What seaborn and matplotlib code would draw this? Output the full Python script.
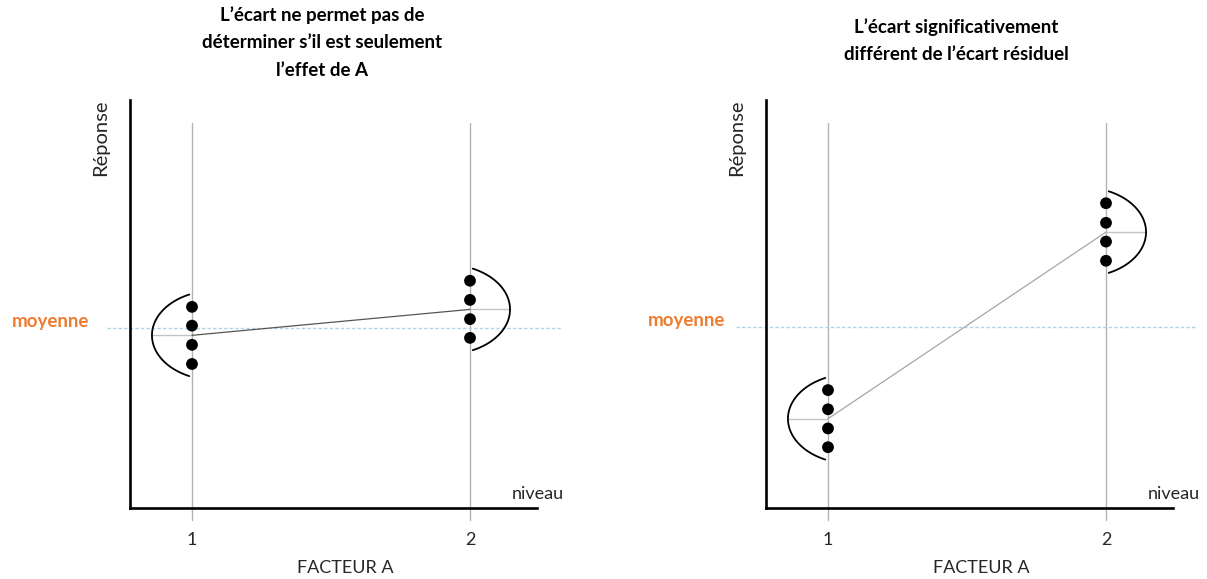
import numpy as np
import pandas as pd
import matplotlib
matplotlib.use("Agg")
import matplotlib.pyplot as plt
import seaborn as sns

# ---------------- data ----------------
levels = [1, 2]
tick_labels = ["1", "2"]
left_g1 = [49.3, 44.7, 40.0, 35.3]
left_g2 = [55.7, 51.0, 46.3, 41.7]
right_g1 = [28.9, 24.2, 19.5, 14.9]
right_g2 = [74.7, 69.9, 65.3, 60.6]
grand_mean_left = 44.0
grand_mean_right = 44.4
titles = ["L\u2019écart ne permet pas de\ndéterminer s\u2019il est seulement\nl\u2019effet de A",
          "L\u2019écart significativement\ndifférent de l\u2019écart résiduel"]

sns.set_theme(style="white")
plt.rcParams['font.family'] = ['Lato', 'DejaVu Sans']

W, H = 1207, 579
fig = plt.figure(figsize=(W / 100, H / 100), dpi=100)

TXT = '#262626'
ORANGE = '#ED7D31'
BLUE = '#a9d6e5'


def arc(ax, xc, yc, side, color='black'):
    # distribution-shaped arc next to a group (half ellipse)
    a, b, half = 0.23, 11.0, 10.0
    vtx = 0.144
    t = np.linspace(-half, half, 100)
    d = a * (1 - np.sqrt(1 - (t / b) ** 2))
    xs = xc + side * (vtx - d)
    ax.plot(xs, yc + t, color=color, lw=1.3, solid_capstyle='round', zorder=4)
    ax.plot([xc, xc + side * vtx], [yc, yc], color='#c4c4c4', lw=1.0, zorder=2)


def panel(ax, g1, g2, gmean, conn_color, title, tx, ty, xlab_off):
    ax.set_xlim(0.777, 2.241)
    ax.set_ylim(0, 100)
    df = pd.DataFrame({'niveau': [1] * len(g1) + [2] * len(g2), 'reponse': g1 + g2})
    means = df.groupby('niveau')['reponse'].mean().reset_index()
    for lv in levels:
        ax.axvline(lv, ymin=-0.029, ymax=0.944, color='#b3b3b3', lw=1.0, clip_on=False, zorder=1)
    ax.axhline(gmean, xmin=xlab_off[0], xmax=xlab_off[1], color=BLUE, lw=1.0,
               dashes=(2.4, 1.6), clip_on=False, zorder=1)
    sns.lineplot(data=means, x='niveau', y='reponse', ax=ax, color=conn_color, lw=0.9, zorder=3)
    sns.scatterplot(data=df, x='niveau', y='reponse', ax=ax, color='black', s=72,
                    edgecolor='none', zorder=5)
    m1, m2 = means['reponse'].tolist()
    arc(ax, 1, m1, -1)
    arc(ax, 2, m2, +1)

    for s in ['top', 'right']:
        ax.spines[s].set_visible(False)
    for s in ['left', 'bottom']:
        ax.spines[s].set_color('black')
        ax.spines[s].set_linewidth(1.9)
    ax.set_xticks(levels)
    ax.set_xticklabels(tick_labels, fontsize=13, color=TXT)
    ax.tick_params(axis='x', length=0, pad=17)
    ax.set_yticks([])
    ax.set_xlabel('FACTEUR A', fontsize=13, color=TXT)
    ax.xaxis.set_label_coords(0.53, -0.127)
    ax.set_ylabel('Réponse', fontsize=14.5, color=TXT, loc='top', labelpad=15)
    ax.text(1.066, 0.035, 'niveau', transform=ax.transAxes, ha='right', va='center',
            fontsize=13, color=TXT)
    ax.text(-0.101, gmean + 0.3, 'moyenne', transform=ax.get_yaxis_transform(),
            ha='right', va='baseline', fontsize=13.5, fontweight='bold', color=ORANGE)
    fig.text(tx / W, 1 - ty / H, title, ha='center', va='top', fontsize=13.5,
             fontweight='bold', color='black', linespacing=1.75)


ax1 = fig.add_axes([130 / W, 1 - 508 / H, 407 / W, 408 / H])
ax2 = fig.add_axes([766 / W, 1 - 508 / H, 407 / W, 408 / H])
panel(ax1, left_g1, left_g2, grand_mean_left, '#555555', titles[0], 322, 6, (-0.0565, 1.061))
panel(ax2, right_g1, right_g2, grand_mean_right, '#a6a6a6', titles[1], 956, 18, (-0.0737, 1.059))

fig.savefig('out.png', dpi=100)
